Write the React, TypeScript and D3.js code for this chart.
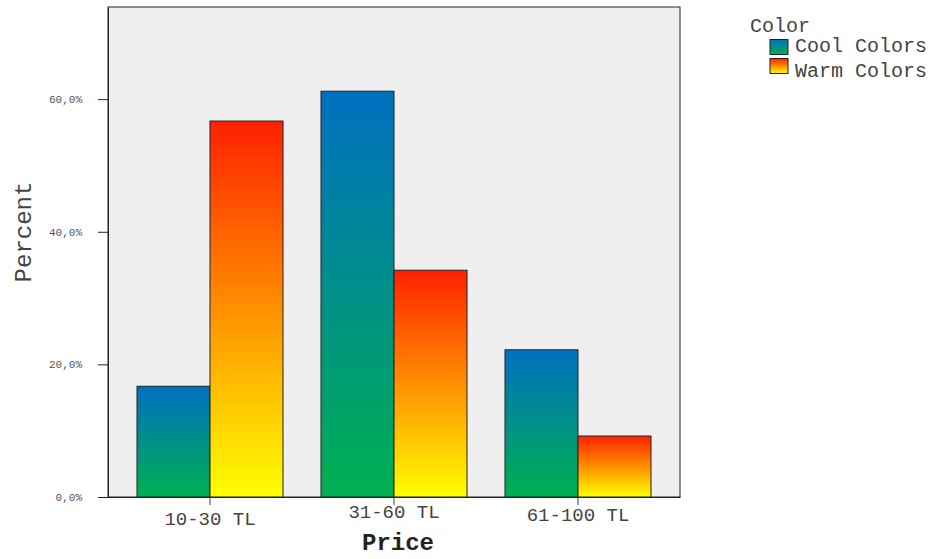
import React, { useEffect, useRef } from 'react';
import * as d3 from 'd3';

const categories = ['10-30 TL', '31-60 TL', '61-100 TL'];
const seriesNames = ['Cool Colors', 'Warm Colors'];
const coolValues = [16.7, 61.2, 22.2];
const warmValues = [56.7, 34.2, 9.2];
const yTicks = [0, 20, 40, 60];

const font = '"Liberation Mono", "DejaVu Sans Mono", monospace';

const App = () => {
  const ref = useRef<SVGSVGElement>(null);

  useEffect(() => {
    const svg = d3.select(ref.current);
    svg.selectAll('*').remove();

    const left = 108, right = 680, top = 7, bottom = 497;

    const defs = svg.append('defs');
    const grads = [
      { id: 'gCool', top: '#0070c0', bot: '#00b050' },
      { id: 'gWarm', top: '#ff2000', bot: '#ffff00' },
    ];
    grads.forEach(g => {
      const lg = defs.append('linearGradient').attr('id', g.id)
        .attr('x1', 0).attr('y1', 0).attr('x2', 0).attr('y2', 1);
      lg.append('stop').attr('offset', '0%').attr('stop-color', g.top);
      lg.append('stop').attr('offset', '100%').attr('stop-color', g.bot);
    });

    const x = d3.scaleBand()
      .domain(categories)
      .range([left, right])
      .paddingInner(0.2065)
      .paddingOuter(0.1576);

    const xs = d3.scaleBand()
      .domain(seriesNames)
      .range([0, x.bandwidth()]);

    const y = d3.scaleLinear()
      .domain([0, 73.9])
      .range([bottom, top]);

    // plot background
    svg.append('rect')
      .attr('x', left).attr('y', top)
      .attr('width', right - left).attr('height', bottom - top)
      .attr('fill', '#efefef')
      .attr('stroke', '#222').attr('stroke-width', 1);

    const data = categories.map((c, i) => ({ cat: c, vals: [coolValues[i], warmValues[i]] }));

    const groups = svg.selectAll('.grp')
      .data(data)
      .enter()
      .append('g')
      .attr('transform', d => `translate(${x(d.cat)},0)`);

    groups.selectAll('rect')
      .data(d => d.vals.map((v, j) => ({ s: seriesNames[j], v, j })))
      .enter()
      .append('rect')
      .attr('x', d => xs(d.s)!)
      .attr('y', d => y(d.v))
      .attr('width', xs.bandwidth())
      .attr('height', d => bottom - y(d.v))
      .attr('fill', d => `url(#${grads[d.j].id})`)
      .attr('stroke', '#222')
      .attr('stroke-width', 1);

    // y axis
    const yAxis = svg.append('g')
      .attr('transform', `translate(${left},0)`)
      .call(d3.axisLeft(y).tickValues(yTicks).tickSize(10).tickSizeOuter(0).tickPadding(16)
        .tickFormat(d => `${(d as number).toFixed(1).replace('.', ',')}%`));
    yAxis.select('.domain').attr('stroke', '#222');
    yAxis.selectAll('.tick line').attr('stroke', '#222');
    yAxis.selectAll('text')
      .attr('font-family', font).attr('font-size', 11).attr('fill', '#555');

    // x axis
    const labelOffsets = [0, -7, -4];
    const xAxis = svg.append('g')
      .attr('transform', `translate(0,${bottom})`)
      .call(d3.axisBottom(x).tickSize(8).tickSizeOuter(0).tickPadding(7));
    xAxis.select('.domain').attr('stroke', '#222');
    xAxis.selectAll('.tick line').attr('stroke', '#444');
    xAxis.selectAll('text')
      .attr('font-family', font).attr('font-size', 19).attr('fill', '#444')
      .attr('transform', (_d, i) => `translate(0,${labelOffsets[i]})`);

    // axis titles
    svg.append('text')
      .attr('x', 398).attr('y', 550)
      .attr('text-anchor', 'middle')
      .attr('font-family', font).attr('font-size', 24).attr('font-weight', 'bold')
      .attr('fill', '#222')
      .text('Price');

    svg.append('text')
      .attr('transform', `translate(31,${(top + bottom) / 2 - 20}) rotate(-90)`)
      .attr('text-anchor', 'middle')
      .attr('font-family', font).attr('font-size', 24)
      .attr('fill', '#444')
      .text('Percent');

    // legend
    const legend = svg.append('g');
    legend.append('text')
      .attr('x', 750).attr('y', 32)
      .attr('font-family', font).attr('font-size', 20).attr('fill', '#444')
      .text('Color');
    seriesNames.forEach((s, i) => {
      legend.append('rect')
        .attr('x', 770).attr('y', 39.5 + i * 19)
        .attr('width', 18).attr('height', 15)
        .attr('fill', `url(#${grads[i].id})`)
        .attr('stroke', '#222').attr('stroke-width', 1);
      legend.append('text')
        .attr('x', 795).attr('y', 52 + i * 25)
        .attr('font-family', font).attr('font-size', 20).attr('fill', '#444')
        .text(s);
    });
  }, []);

  return (
    <svg ref={ref} width={930} height={559}
      style={{ position: 'absolute', left: 0, top: 0, background: '#fff' }} />
  );
};

export default App;
